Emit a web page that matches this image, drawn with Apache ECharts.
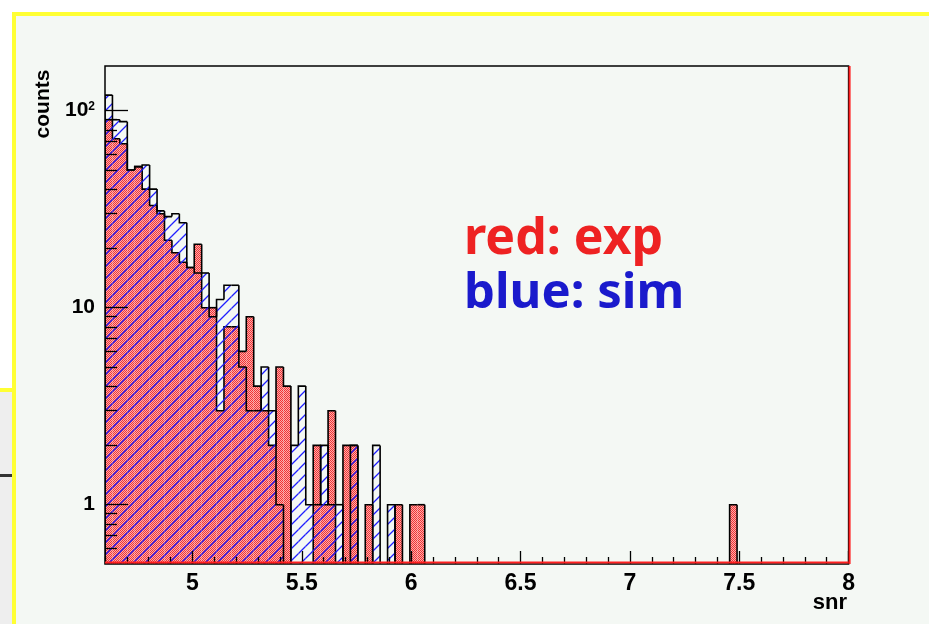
<!DOCTYPE html>
<html><head><meta charset="utf-8">
<script src="https://cdn.jsdelivr.net/npm/echarts@6/dist/echarts.min.js"></script>
<style>html,body{margin:0;padding:0;background:#f4f8f4}#c{width:929px;height:624px}</style>
</head><body><div id="c"></div>
<script>
// histogram binning
const xMin = 4.6, xMax = 8.0, binWidth = 0.034;
const yMin = 0.5, yMax = 168.6;

// blue: sim (100 bins)
const simCounts = [
  120, 90, 88, 50, 52, 53, 40, 31, 29, 30,
  27, 16, 15, 15, 9, 11, 13, 13, 5, 3,
  3, 5, 3, 1, 0, 2, 4, 1, 1, 2,
  1, 1, 0, 2, 0, 0, 2, 0, 1, 0,
  0, 0, 0, 0, 0, 0, 0, 0, 0, 0,
  0, 0, 0, 0, 0, 0, 0, 0, 0, 0,
  0, 0, 0, 0, 0, 0, 0, 0, 0, 0,
  0, 0, 0, 0, 0, 0, 0, 0, 0, 0,
  0, 0, 0, 0, 0, 0, 0, 0, 0, 0,
  0, 0, 0, 0, 0, 0, 0, 0, 0, 0
];
// red: exp (100 bins)
const expCounts = [
  90, 72, 68, 50, 52, 40, 33, 30, 22, 19,
  17, 16, 21, 10, 10, 3, 8, 8, 6, 9,
  4, 3, 2, 5, 4, 0, 0, 0, 2, 1,
  3, 0, 2, 2, 0, 1, 0, 0, 0, 1,
  0, 1, 1, 0, 0, 0, 0, 0, 0, 0,
  0, 0, 0, 0, 0, 0, 0, 0, 0, 0,
  0, 0, 0, 0, 0, 0, 0, 0, 0, 0,
  0, 0, 0, 0, 0, 0, 0, 0, 0, 0,
  0, 0, 0, 0, 1, 0, 0, 0, 0, 0,
  0, 0, 0, 0, 0, 0, 0, 0, 0, 0
];

const xTickMajor = [5, 5.5, 6, 6.5, 7, 7.5, 8];
const xTickMinor = [4.6, 4.7, 4.8, 4.9, 5.1, 5.2, 5.3, 5.4, 5.6, 5.7, 5.8, 5.9, 6.1, 6.2, 6.3, 6.4,
  6.6, 6.7, 6.8, 6.9, 7.1, 7.2, 7.3, 7.4, 7.6, 7.7, 7.8, 7.9];
const yTickMajor = [1, 10, 100];
const yTickMinor = [0.6, 0.7, 0.8, 0.9, 2, 3, 4, 5, 6, 7, 8, 9, 20, 30, 40, 50, 60, 70, 80, 90];
const yLabelText = {1: '{n|1}', 10: '{n|10}', 100: '{n|10}{s|2}'};

function makeHatch() {
  const c = document.createElement('canvas'); c.width = 12; c.height = 12;
  const g = c.getContext('2d');
  g.strokeStyle = '#1f1fff'; g.lineWidth = 1.3;
  g.beginPath();
  g.moveTo(0, 12); g.lineTo(12, 0);
  g.moveTo(-6, 6); g.lineTo(6, -6);
  g.moveTo(6, 18); g.lineTo(18, 6);
  g.stroke();
  return c;
}
function makeDots() {
  const c = document.createElement('canvas'); c.width = 2; c.height = 2;
  const g = c.getContext('2d');
  g.fillStyle = '#ffaaaa'; g.fillRect(0, 0, 2, 2);
  g.fillStyle = '#ee3535'; g.fillRect(0, 0, 1, 1); g.fillRect(1, 1, 1, 1);
  return c;
}
const hatchFill = {image: makeHatch(), repeat: 'repeat'};
const dotFill = {image: makeDots(), repeat: 'repeat'};

function histData(counts) {
  return counts.map((v, i) => [i, v, i > 0 ? counts[i - 1] : 0]);
}
function histRender(fill) {
  return function (params, api) {
    const i = api.value(0), v = api.value(1), pv = api.value(2);
    if (v <= 0 && pv <= 0) return null;
    const x0 = xMin + i * binWidth, x1 = x0 + binWidth;
    const yb = api.coord([x0, yMin])[1];
    const p0 = api.coord([x0, v > 0 ? v : yMin]);
    const p1 = api.coord([x1, v > 0 ? v : yMin]);
    const pp = api.coord([x0, pv > 0 ? pv : yMin]);
    const children = [];
    if (v > 0) {
      children.push({type: 'rect', shape: {x: p0[0], y: p0[1], width: p1[0] - p0[0], height: yb - p0[1]},
        style: {fill: fill, stroke: null}});
      children.push({type: 'polyline', shape: {points: [pp, p0, p1]}, style: {stroke: '#000', lineWidth: 1.6, fill: null}});
    } else {
      children.push({type: 'polyline', shape: {points: [pp, p0]}, style: {stroke: '#000', lineWidth: 1.6, fill: null}});
    }
    return {type: 'group', children: children};
  };
}

const G = {left: 105, right: 80.4, top: 66, bottom: 60};
const W = 929, H = 624;
const gx0 = G.left, gx1 = W - G.right, gy0 = G.top, gy1 = H - G.bottom;

const chart = echarts.init(document.getElementById('c'), null, {renderer: 'canvas'});
const axisFont = {fontFamily: 'Liberation Sans, Arial, sans-serif', fontWeight: 'bold', color: '#000'};
chart.setOption({
  backgroundColor: '#f4f8f4',
  animation: false,
  grid: {left: G.left, right: G.right, top: G.top, bottom: G.bottom, show: false},
  xAxis: [
    {type: 'value', min: xMin, max: xMax, position: 'bottom', z: 10,
     axisLine: {show: false}, splitLine: {show: false},
     axisTick: {show: true, inside: true, length: 7, customValues: xTickMinor, lineStyle: {color: '#000', width: 1.3}},
     axisLabel: {show: false}},
    {type: 'value', min: xMin, max: xMax, position: 'bottom', z: 10,
     axisLine: {show: false}, splitLine: {show: false},
     axisTick: {show: true, inside: true, length: 13, customValues: xTickMajor, lineStyle: {color: '#000', width: 1.3}},
     axisLabel: Object.assign({show: true, customValues: xTickMajor, fontSize: 23, margin: 8,
       formatter: v => String(+v.toFixed(2))}, axisFont)}
  ],
  yAxis: [
    {type: 'log', logBase: 10, min: yMin, max: yMax, position: 'left', z: 10,
     axisLine: {show: false}, splitLine: {show: false},
     axisTick: {show: true, inside: true, length: 12, customValues: yTickMinor, lineStyle: {color: '#000', width: 1.3}},
     axisLabel: {show: false}},
    {type: 'log', logBase: 10, min: yMin, max: yMax, position: 'left', z: 10,
     axisLine: {show: false}, splitLine: {show: false},
     axisTick: {show: true, inside: true, length: 23, customValues: yTickMajor, lineStyle: {color: '#000', width: 1.3}},
     axisLabel: Object.assign({show: true, customValues: yTickMajor, fontSize: 21, margin: 10,
       formatter: v => yLabelText[Math.round(v)] || '',
       rich: {
         n: {fontSize: 21, fontWeight: 'bold', fontFamily: 'Liberation Sans, Arial, sans-serif', color: '#000'},
         s: {fontSize: 12, fontWeight: 'bold', fontFamily: 'Liberation Sans, Arial, sans-serif', color: '#000',
             verticalAlign: 'top', padding: [0, 0, 8, 0]}
       }}, axisFont)}
  ],
  series: [
    {type: 'custom', name: 'exp', xAxisIndex: 0, yAxisIndex: 0, z: 2, clip: true,
     renderItem: histRender(dotFill), data: histData(expCounts), encode: {x: 0, y: 1}},
    {type: 'custom', name: 'sim', xAxisIndex: 0, yAxisIndex: 0, z: 3, clip: true,
     renderItem: histRender(hatchFill), data: histData(simCounts), encode: {x: 0, y: 1}}
  ],
  graphic: [
    // slide decorations
    {type: 'rect', z: -10, shape: {x: 0, y: 0, width: W, height: 12}, style: {fill: '#ffffff'}},
    {type: 'rect', z: -10, shape: {x: 0, y: 0, width: 12, height: 388}, style: {fill: '#ffffff'}},
    {type: 'rect', z: -10, shape: {x: 0, y: 392, width: 12, height: H - 392}, style: {fill: '#eeeeee'}},
    {type: 'rect', z: -9, shape: {x: 0, y: 474, width: 12, height: 3}, style: {fill: '#333333'}},
    {type: 'rect', z: -9, shape: {x: 0, y: 388, width: 13, height: 4}, style: {fill: '#ffff33'}},
    {type: 'rect', z: -9, shape: {x: 12, y: 12, width: W - 12, height: 4}, style: {fill: '#ffff33'}},
    {type: 'rect', z: -9, shape: {x: 12, y: 12, width: 4, height: H - 12}, style: {fill: '#ffff33'}},
    // frame
    {type: 'rect', z: 100, shape: {x: gx0, y: gy0, width: gx1 - gx0, height: gy1 - gy0},
     style: {fill: null, stroke: '#000', lineWidth: 1.5}},
    {type: 'line', z: 101, shape: {x1: gx0, y1: gy1 - 1.5, x2: gx1, y2: gy1 - 1.5}, style: {stroke: '#ff2020', lineWidth: 2}},
    {type: 'line', z: 101, shape: {x1: gx1 + 1, y1: gy0, x2: gx1 + 1, y2: gy1}, style: {stroke: '#ff2020', lineWidth: 2}},
    // axis titles
    {type: 'text', z: 100, x: 43, y: 104, rotation: Math.PI / 2,
     style: {text: 'counts', fontSize: 21, fontWeight: 'bold', fontFamily: 'Liberation Sans, Arial, sans-serif',
       fill: '#000', align: 'center', verticalAlign: 'middle'}},
    {type: 'text', z: 100, x: 847, y: 603,
     style: {text: 'snr', fontSize: 22, fontWeight: 'bold', fontFamily: 'Liberation Sans, Arial, sans-serif',
       fill: '#000', align: 'right', verticalAlign: 'middle'}},
    // legend text
    {type: 'text', z: 100, x: 464, y: 240,
     style: {text: 'red: exp', fontSize: 50, fontWeight: 'bold', fontFamily: 'Noto Sans, sans-serif',
       fill: '#ee2222', align: 'left', verticalAlign: 'middle'}},
    {type: 'text', z: 100, x: 464, y: 294,
     style: {text: 'blue: sim', fontSize: 49, fontWeight: 'bold', fontFamily: 'Noto Sans, sans-serif',
       fill: '#1a1acc', align: 'left', verticalAlign: 'middle'}}
  ]
});
</script>
</body></html>
